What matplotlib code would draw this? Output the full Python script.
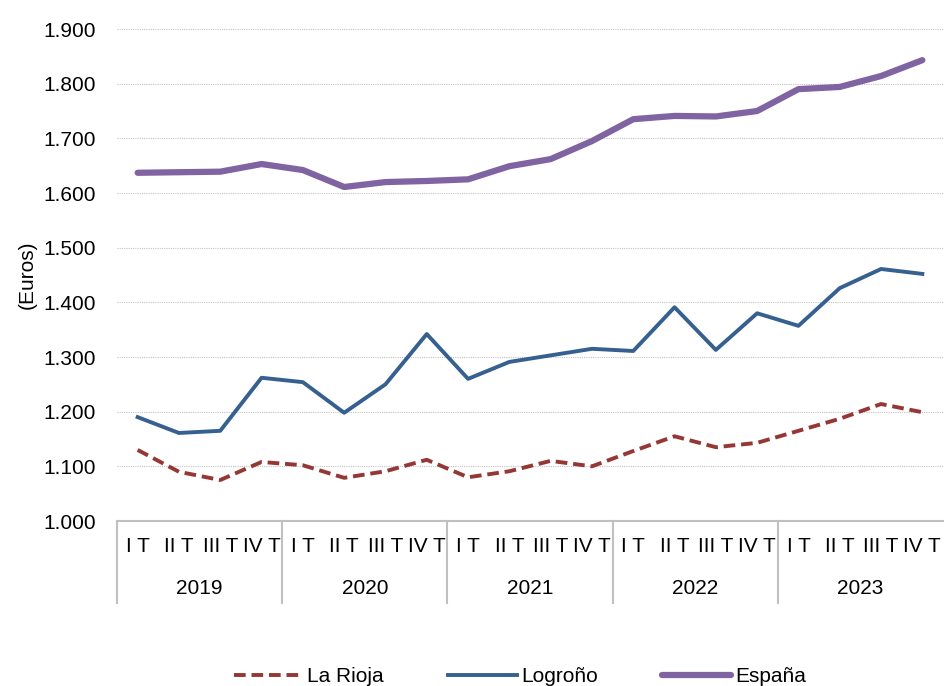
import matplotlib.pyplot as plt
import matplotlib.transforms as mtransforms
from matplotlib.lines import Line2D

plt.rcParams['font.family'] = ['Liberation Sans', 'DejaVu Sans']

# datos trimestrales 2019-2023
years = ["2019", "2020", "2021", "2022", "2023"]
quarters = ["I T", "II T", "III T", "IV T"]

la_rioja = [1130, 1090, 1075, 1108, 1102, 1079, 1091, 1112, 1080, 1091,
            1110, 1100, 1128, 1155, 1135, 1143, 1165, 1187, 1214, 1199]
logrono = [1190, 1161, 1165, 1262, 1254, 1198, 1250, 1342, 1260, 1291,
           1303, 1315, 1311, 1391, 1313, 1380, 1357, 1426, 1461, 1452]
espana = [1637, 1638, 1639, 1653, 1642, 1611, 1620, 1622, 1625, 1649,
          1662, 1695, 1735, 1741, 1740, 1750, 1790, 1794, 1814, 1843]

x = list(range(len(espana)))
fs = 15

fig = plt.figure(figsize=(9.44, 6.86), dpi=100)
ax = fig.add_axes([117 / 944, 1 - 521 / 686, 826 / 944, (521 - 29) / 686])

ax.plot(x, la_rioja, color="#953735", lw=2.8, dashes=(3, 1.5), label="La Rioja")
ax.plot(x, logrono, color="#35608F", lw=2.8, label="Logroño")
ax.plot(x, espana, color="#8064A2", lw=4.5, solid_capstyle="round", label="España")

ax.set_xlim(-0.5, len(x) - 0.5)
ax.set_ylim(1000, 1900)
ax.set_yticks(range(1000, 1901, 100))
ax.set_yticklabels([f"{v // 1000}.{v % 1000:03d}" for v in range(1000, 1901, 100)], fontsize=fs)
ax.tick_params(axis="y", length=0, pad=15)
ax.set_xticks([])
ax.grid(axis="y", color="#c4c4c4", ls=(0, (1, 1)), lw=0.8)
ax.set_axisbelow(True)
for s in ["top", "right", "left"]:
    ax.spines[s].set_visible(False)
ax.spines["bottom"].set_color("#c0c0c0")
ax.spines["bottom"].set_linewidth(1.5)

ax.set_ylabel("(Euros)", fontsize=fs)
ax.yaxis.set_label_coords(-0.097, 0.5)

# eje de categorías agrupado
trans = mtransforms.blended_transform_factory(ax.transData, ax.transAxes)
px = 1 / 492  # un pixel en coordenadas de ejes (vertical)
for g in range(len(years)):
    ax.add_line(Line2D([g * 4 - 0.5] * 2, [0, -82 * px], transform=trans,
                       color="#c0c0c0", lw=1.5, clip_on=False))
for g, yr in enumerate(years):
    ax.text(g * 4 + 1.5, -67 * px, yr, transform=trans, ha="center", va="center", fontsize=fs)
    for q, lab in enumerate(quarters):
        ax.text(g * 4 + q, -25 * px, lab, transform=trans, ha="center", va="center", fontsize=fs)

fig.legend(loc="center", bbox_to_anchor=(520 / 944, 1 - 677 / 686), ncol=3, frameon=False,
           fontsize=fs, handlelength=3.3, columnspacing=3.1, handletextpad=0.2)

fig.savefig("out.png", dpi=100)
